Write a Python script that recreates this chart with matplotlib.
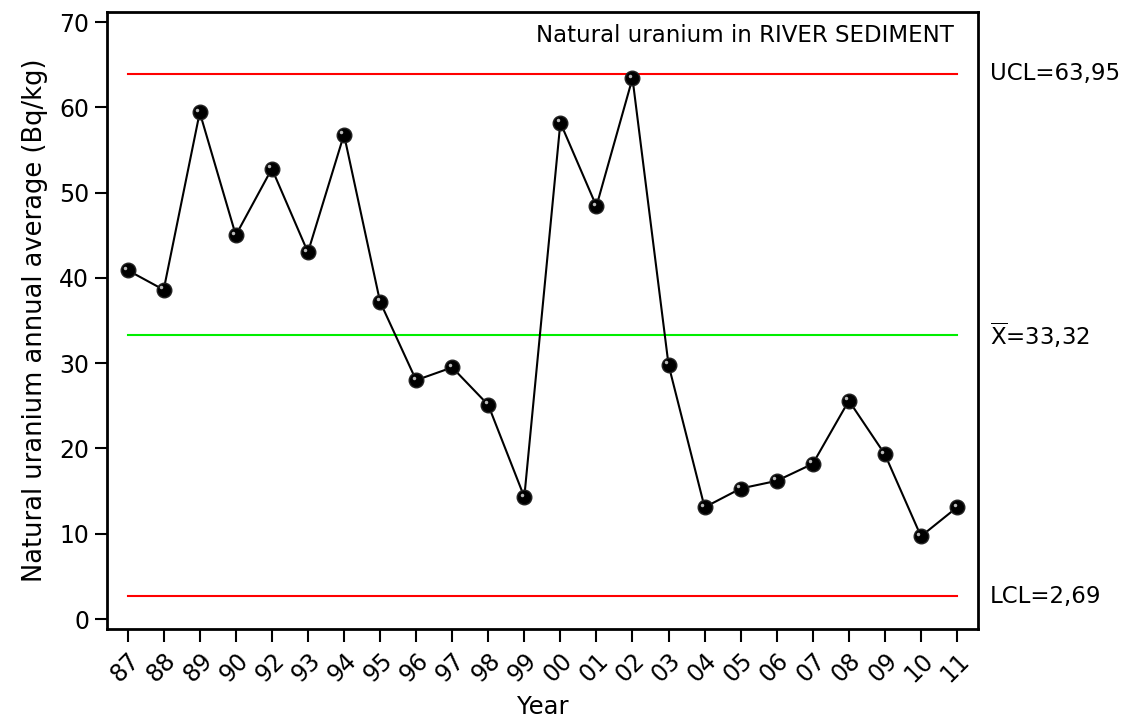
import matplotlib
matplotlib.use("Agg")
import matplotlib.pyplot as plt
from matplotlib.transforms import blended_transform_factory, ScaledTranslation

years = ["87", "88", "89", "90", "92", "93", "94", "95", "96", "97", "98", "99",
         "00", "01", "02", "03", "04", "05", "06", "07", "08", "09", "10", "11"]
values = [40.9, 38.6, 59.4, 45.0, 52.8, 43.0, 56.8, 37.2, 28.0, 29.5, 25.1, 14.3,
          58.2, 48.4, 63.4, 29.8, 13.1, 15.3, 16.2, 18.2, 25.6, 19.3, 9.7, 13.1]
ucl = 63.95
mean = 33.32
lcl = 2.69
ucl_label = "UCL=63,95"
mean_label = r"$\overline{\mathrm{X}}$=33,32"
lcl_label = "LCL=2,69"
title = "Natural uranium in RIVER SEDIMENT"

plt.rcParams['font.family'] = ['DejaVu Sans']
plt.rcParams['mathtext.fontset'] = 'dejavusans'
fig = plt.figure(figsize=(11.28, 7.2), dpi=100)
ax = fig.add_axes([0.0946, 0.1264, 0.7727, 0.8569])

x = list(range(len(years)))
ax.plot([x[0], x[-1]], [ucl, ucl], color='#ff0000', lw=1.5, zorder=1)
ax.plot([x[0], x[-1]], [lcl, lcl], color='#ff0000', lw=1.5, zorder=1)
ax.plot([x[0], x[-1]], [mean, mean], color='#00ee00', lw=1.5, zorder=1)
ax.plot(x, values, color='black', lw=1.5, marker='o', markersize=10.5,
        markerfacecolor='black', markeredgecolor='#222222', zorder=3)
# small glossy highlight on markers
glint = ax.transData + ScaledTranslation(-2.5 / 100, 2.5 / 100, fig.dpi_scale_trans)
ax.plot(x, values, linestyle='none', marker='o', markersize=2.5,
        markerfacecolor='#bbbbbb', markeredgecolor='none', transform=glint, zorder=4)

ax.set_xlim(-0.58, 23.59)
ax.set_ylim(-1.17, 71.17)
ax.set_yticks([0, 10, 20, 30, 40, 50, 60, 70])
ax.set_xticks(x)
ax.set_xticklabels(years, rotation=45, ha='right', rotation_mode='anchor')
ax.tick_params(axis='both', direction='out', length=9, width=1.5, labelsize=17, colors='black')
ax.tick_params(axis='x', pad=5)
for s in ax.spines.values():
    s.set_linewidth(2)

ax.set_ylabel("Natural uranium annual average (Bq/kg)", fontsize=18.5, labelpad=8)
ax.set_xlabel("Year", fontsize=17.5, labelpad=6)

ax.text(0.972, 0.962, title, transform=ax.transAxes, ha='right', va='center', fontsize=16.5)

tr = blended_transform_factory(ax.transAxes, ax.transData)
ax.text(1.013, ucl, ucl_label, transform=tr, ha='left', va='center', fontsize=16.5, clip_on=False)
ax.text(1.013, mean, mean_label, transform=tr, ha='left', va='center', fontsize=16.5, clip_on=False)
ax.text(1.013, lcl, lcl_label, transform=tr, ha='left', va='center', fontsize=16.5, clip_on=False)

fig.savefig("out.png", dpi=100)
